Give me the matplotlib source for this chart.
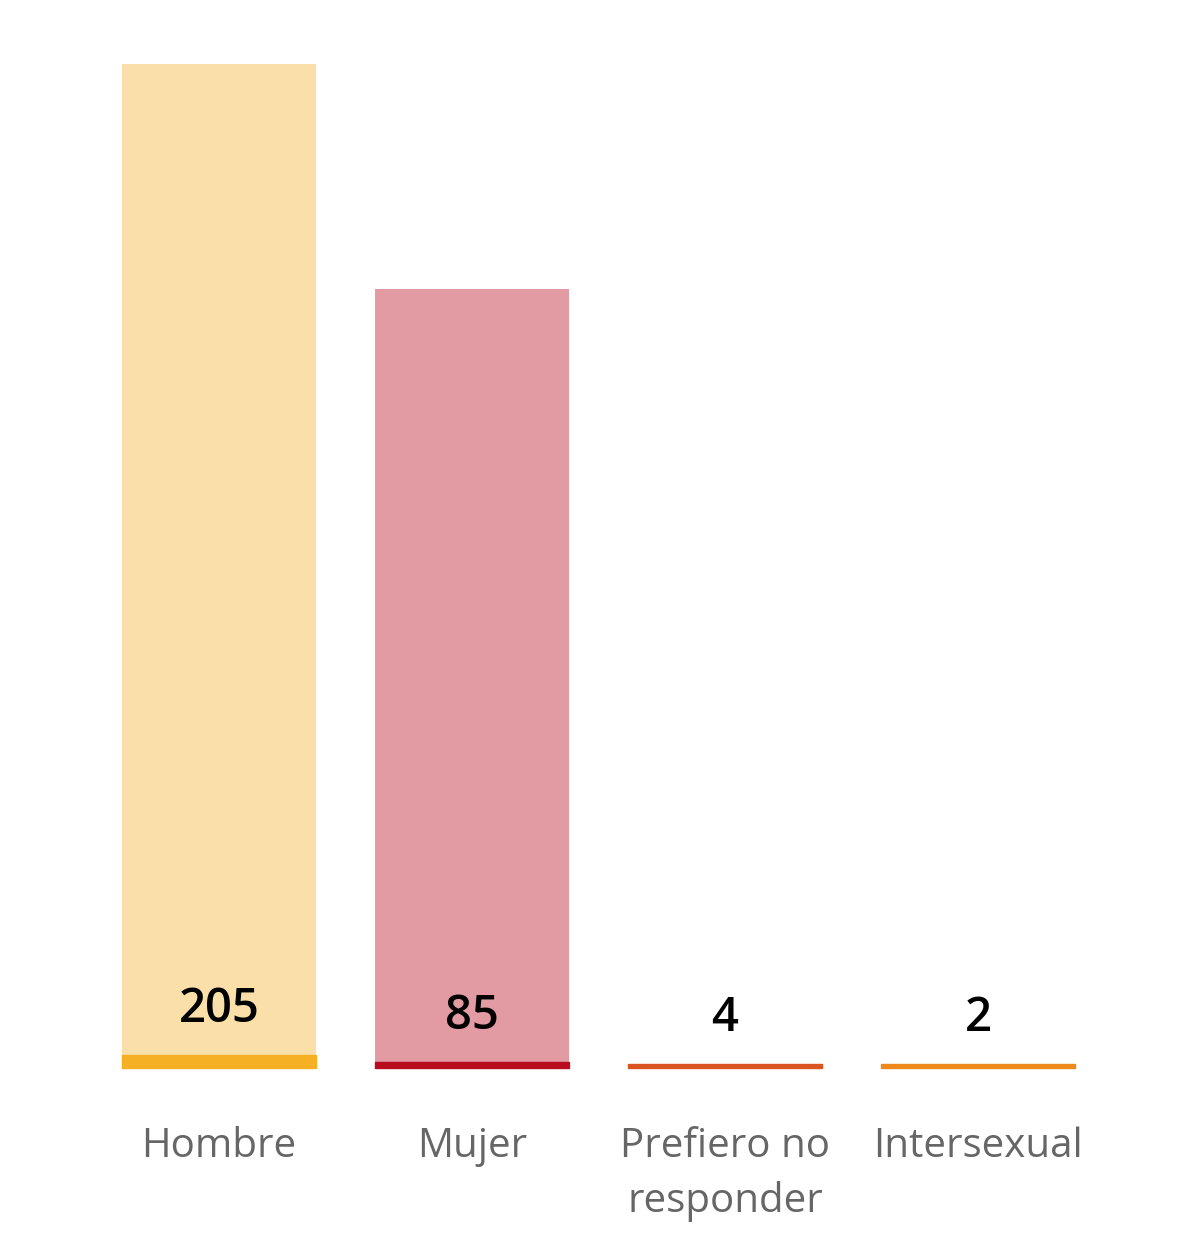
import matplotlib

matplotlib.use("Agg")

import matplotlib.pyplot as plt
import matplotlib.transforms as mtransforms
from matplotlib.patches import Rectangle

# data
categories = ["Hombre", "Mujer", "Prefiero no\nresponder", "Intersexual"]
counts = [205, 85, 4, 2]

# style
fill_colors = ["#FAE0A8", "#E29BA3", "#F6CDB9", "#F9DDB8"]
stripe_colors = ["#F5B024", "#B80C1F", "#DA5520", "#EE8A1C"]
stripe_px = [13, 6, 4, 4]

plt.rcParams["font.family"] = ["Open Sans", "DejaVu Sans"]

fig = plt.figure(figsize=(11.84, 12.33), dpi=100)
ax = fig.add_axes([0.0781, 0.1338, 0.8548, 0.8143])

x = list(range(len(categories)))
width = 0.767
ax.bar(x, counts, width=width, color=fill_colors, bottom=0.0001, zorder=1)
ax.set_yscale("log")
ax.set_ylim(4, 205)
ax.set_xlim(-0.5, len(categories) - 0.5)

# coloured baseline stripe at the foot of each bar
trans = mtransforms.blended_transform_factory(ax.transData, ax.transAxes)
ax_h_px = 0.8143 * 1233
for xi, col, px in zip(x, stripe_colors, stripe_px):
    ax.add_patch(Rectangle((xi - width / 2, 0), width, px / ax_h_px,
                           transform=trans, color=col, zorder=2,
                           clip_on=False))

for xi, v, px in zip(x, counts, stripe_px):
    ax.annotate(str(v), (xi, px / ax_h_px), xycoords=trans,
                xytext=(0, 24), textcoords="offset points",
                ha="center", va="baseline", fontsize=34,
                fontweight="semibold", color="black", zorder=3)

ax.set_xticks(x)
ax.set_xticklabels(categories, fontsize=29, color="#666666", linespacing=1.45)
ax.tick_params(axis="x", length=0, pad=42)
ax.tick_params(axis="y", left=False, labelleft=False, which="both")
ax.minorticks_off()
for s in ax.spines.values():
    s.set_visible(False)

fig.savefig("out.png", dpi=100)
